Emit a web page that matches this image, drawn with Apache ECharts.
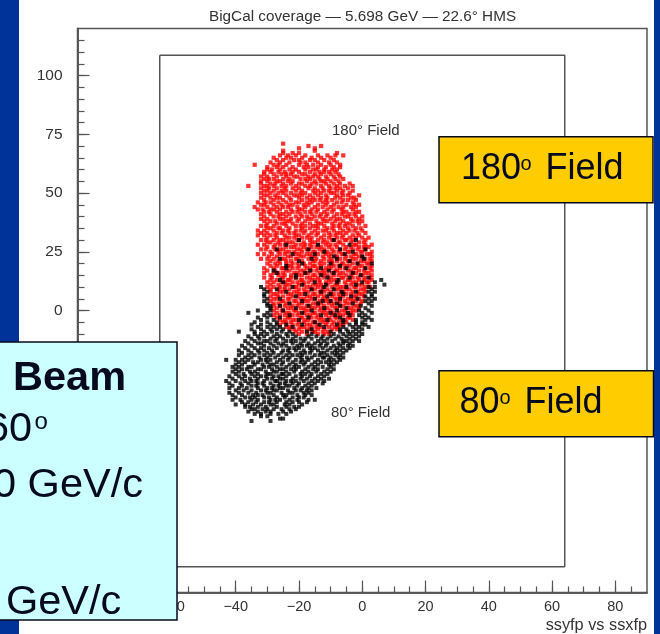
<!DOCTYPE html>
<html><head><meta charset="utf-8">
<style>html,body{margin:0;padding:0;background:#fff}#c{width:660px;height:634px}</style>
<script src="https://cdn.jsdelivr.net/npm/echarts@6/dist/echarts.min.js"></script>
</head><body><div id="c"></div>
<script>
const xMajor=[-80,-60,-40,-20,0,20,40,60,80];
const yMajor=[-100,-75,-50,-25,0,25,50,75,100];
const xMinor=[-85,-80,-75,-70,-65,-60,-55,-50,-45,-40,-35,-30,-25,-20,-15,-10,-5,0,5,10,15,20,25,30,35,40,45,50,55,60,65,70,75,80,85];
const yMinor=[-115,-110,-105,-100,-95,-90,-85,-80,-75,-70,-65,-60,-55,-50,-45,-40,-35,-30,-25,-20,-15,-10,-5,0,5,10,15,20,25,30,35,40,45,50,55,60,65,70,75,80,85,90,95,100,105,110,115];
const boxX=[-64,64,64,-64,-64];
const boxY=[108.6,108.6,-109,-109,108.6];
// each row: y, then the x of the points read along that row
const redRows=[
[71,-25],[70,-17,-13],[69,-20,-15],[68,-25,-15],[67,-25,-22,-20,-8],
[66,-26,-23.5,-21,-18,-14,-11,-8.5,-6],[65,-28,-24,-22.5,-19,-16,-13,-10],
[64,-27,-25,-21.5,-20,-16.5,-15,-12,-9],[63,-29,-26,-23,-19.5,-18,-14,-10.5,-8],
[62,-34,-28,-26.5,-24,-20,-17.5,-15.5,-13,-10,-7],[61,-30,-27,-25,-22,-18.5,-17,-14,-11.5,-9,-7],
[60,-30,-28.5,-26,-23,-21,-18,-15.5,-14.5,-12,-9.5,-8],[59,-31,-29,-26.5,-24.5,-22,-20,-16.5,-13.5,-12,-10.5,-8.5],
[58,-31,-28,-25.5,-24,-22.5,-19,-18,-15,-13,-10,-7.5],[57,-32,-30,-27,-24,-21.5,-20.5,-17,-15.5,-14,-11.5,-9,-7],
[56,-31,-29.5,-28,-25,-23,-19.5,-18,-16.5,-13.5,-11,-8.5,-6],[55,-32,-30,-27,-26,-23.5,-22,-17.5,-15,-13,-12,-10,-7.5],
[54,-32,-29,-27.5,-25,-22.5,-20,-19,-16,-14.5,-11.5,-9,-7,-4],[53,-36,-31,-30,-28,-25.5,-24,-21,-18,-16.5,-13,-10.5,-8,-5.5,-3],
[52,-32,-29.5,-27,-24.5,-22,-20,-17,-15,-12.5,-10,-8.5,-7,-4.5],[51,-31,-30,-28,-25.5,-24,-21,-19,-15.5,-14,-12,-10.5,-8,-6,-3],
[50,-32,-29,-26.5,-25,-22.5,-19.5,-18,-15,-13,-10,-9,-6.5,-4],[49,-31,-30,-27.5,-24,-21.5,-20.5,-19,-16.5,-14,-11.5,-8,-6,-4.5,-1],
[48,-32,-29,-27,-26,-23,-20,-17.5,-15.5,-13,-11,-8.5,-7,-3.5,-2.5],[47,-31,-28,-25,-22.5,-19,-16.5,-15,-13.5,-11.5,-9.5,-6,-4.5,-2],
[46,-33,-30.5,-29,-26.5,-24,-21,-20,-17.5,-16,-12.5,-11,-8,-6.5,-3],[45,-32,-31,-28,-25.5,-23,-22,-18.5,-17,-14,-11.5,-9,-5,-2.5,-1],
[44,-34,-30,-27,-25,-23.5,-20.5,-18,-15,-12.5,-10,-7.5,-6,-3.5,-2],[43,-33,-31.5,-29,-28,-26,-22.5,-20,-19,-16,-14,-11,-9,-6.5,-3],
[42,-31,-29.5,-27,-24,-22,-20.5,-18,-16.5,-14.5,-12,-9.5,-6,-5,-2,-1],[41,-32,-29,-26,-25,-23,-19.5,-16,-13,-11,-8,-6.5,-4,-2.5],
[40,-31,-28,-26.5,-24,-21,-19,-17.5,-15,-13.5,-11.5,-9,-5.5,-4.5,-2,0],[39,-32,-30,-26,-25,-22.5,-20,-17,-16,-12.5,-10,-8,-7,-3.5,-1],
[38,-31,-29,-27.5,-24,-23,-20.5,-18,-14.5,-12,-11,-8.5,-6,-3,-1.5,0],[37,-30,-27,-25.5,-24.5,-22,-19,-16.5,-14,-13,-9.5,-7,-5,-4,-1],
[36,-32,-30.5,-28,-24,-21,-19.5,-18,-15.5,-14.5,-12,-9,-7.5,-5.5,-3,1],[35,-30,-29,-26.5,-26,-23,-19,-16.5,-14,-11,-9.5,-7,-4.5,-2,-0.5],
[34,-33,-31,-28,-25,-23.5,-21,-19.5,-18,-15,-12.5,-11.5,-9,-6,-4,-2.5,0],[33,-32,-30,-27,-25.5,-23,-21.5,-18.5,-16,-14,-10.5,-8,-7,-5,-1.5,1],
[32,-33,-31,-29,-27.5,-24.5,-21,-20,-17,-14.5,-12,-10,-8.5,-6,-3,-1],[31,-30,-27,-24,-23,-21.5,-19,-17.5,-16,-13,-10.5,-8,-6.5,-4,-2,0,2],
[30,-32,-30.5,-28,-26,-25,-20.5,-20,-16.5,-14,-12,-9.5,-9,-5.5,-5,-3,1],[29,-30,-29,-26.5,-24,-23,-22,-18.5,-16,-15,-12.5,-11,-7.5,-7,-3.5,-1,0.5],
[28,-33,-31,-27.5,-26,-24.5,-21,-19.5,-18,-16.5,-14,-11.5,-10,-8.5,-6,-2.5,-2,1,3],[27,-30,-28,-24,-22.5,-21.5,-18.5,-16,-14.5,-13,-10.5,-8,-5,-3.5,-1,0.5,2],
[26,-32,-30.5,-27.5,-26,-25,-20.5,-19.5,-17.5,-17,-13.5,-12,-9.5,-7,-5.5,-3,-1.5,1],[25,-29,-26.5,-24,-23,-21.5,-19,-15.5,-15,-12.5,-11,-9,-7.5,-4.5,-4,-0.5,0,3],
[24,-33,-31,-28.5,-26,-24.5,-21,-20,-17.5,-16.5,-14,-11.5,-10,-6.5,-6,-2.5,-2,1.5,2.5],[23,-29.5,-27,-23.5,-22.5,-19.5,-18.5,-16,-15,-12.5,-10.5,-8.5,-8,-5,-3.5,-1,0,3],
[22,-32,-30,-28,-25.5,-24.5,-21,-20.5,-17,-14.5,-12,-10,-7,-5.5,-3,-2,1,2.5],[21,-29,-26.5,-24,-22.5,-19,-15.5,-15,-13,-10.5,-9.5,-8,-4.5,-4,-0.5,0.5,3],
[20,-30,-27.5,-26,-24,-22,-20.5,-18.5,-16.5,-13.5,-12,-9.5,-6.5,-6,-3,-1.5,1.5,2],[19,-29,-27,-23.5,-22.5,-20,-18,-15.5,-15,-13,-10.5,-9,-7.5,-5,-4,-1,0,3],
[18,-31,-28,-25.5,-25,-22,-20.5,-17.5,-16.5,-14,-11.5,-10,-7,-5.5,-2.5,-2,1,2.5],[17,-30,-27.5,-24,-23,-19.5,-18.5,-16,-14.5,-12.5,-11,-8.5,-8,-4.5,-3.5,-1,0.5,3],
[16,-31,-28,-26.5,-25,-21.5,-20.5,-18,-17,-13.5,-12,-9.5,-7,-6,-3,-2,1,2],[15,-29,-26.5,-24.5,-22.5,-20,-19,-15.5,-15,-12.5,-11,-9,-7.5,-5,-3.5,-0.5,0,3],
[14,-31,-28.5,-25.5,-25,-22.5,-21,-17.5,-16.5,-14,-12,-10,-6.5,-6,-3,-1.5,1,2.5],[13,-29,-27,-23.5,-23,-19.5,-19,-16,-15,-13.5,-10.5,-9,-8,-4.5,-4,-1,0.5,3],
[12,-30,-28,-25.5,-24.5,-22,-20.5,-18.5,-17,-13.5,-11.5,-10,-7.5,-5.5,-3,-2,1.5,2],[11,-29,-26.5,-24,-23,-20,-18.5,-15.5,-14.5,-13,-11,-8.5,-8,-5,-3.5,-1,0],
[10,-30,-28,-26,-24.5,-21.5,-21,-17.5,-16.5,-14,-12.5,-9.5,-7,-6,-2.5,-2,1,2.5],[9,-29,-26.5,-24.5,-23,-20,-18.5,-16,-15,-12.5,-11,-8.5,-7.5,-5,-4,-0.5,0.5],
[8,-29,-26,-25,-21.5,-20.5,-18,-17,-13.5,-12,-10,-6.5,-6,-3,-1.5,1],[7,-28,-27,-23.5,-22.5,-20,-19,-15.5,-15,-13,-10.5,-9,-7.5,-5,-3.5,-1,0],
[6,-29,-26.5,-25,-22,-20.5,-17.5,-16.5,-14,-12,-9.5,-7,-6,-2.5,-2,0.5],[5,-28,-27,-23.5,-23,-19.5,-18.5,-16,-15,-12.5,-11,-8.5,-8,-4.5,-3.5,-1],
[4,-29,-25.5,-25,-21.5,-21,-18,-17,-13.5,-11.5,-10,-7,-5.5,-3,-2,0],[3,-28,-26.5,-24,-23,-20,-19,-15.5,-14.5,-13,-10.5,-9,-7.5,-5,-4,-0.5],
[2,-28,-26,-24.5,-22,-20.5,-17.5,-16.5,-14,-12,-9.5,-7,-6,-2.5,-1.5],[1,-27,-23.5,-22.5,-19.5,-18.5,-16,-15,-13,-11,-8.5,-8,-4.5,-3.5,-1],
[0,-28,-25.5,-25,-21.5,-21,-18,-17,-13.5,-12,-10,-6.5,-5.5,-3,-2],[-1,-27,-24,-23,-20,-18.5,-15.5,-15,-12.5,-11,-9,-7.5,-5,-3.5],
[-2,-28,-26,-24.5,-22,-20.5,-17.5,-16.5,-14,-11.5,-9.5,-7,-6,-3],[-3,-27,-23.5,-23,-19.5,-19,-16,-14.5,-13,-10.5,-8.5,-8,-4.5,-4],
[-4,-26,-24.5,-22,-21,-18,-17,-13.5,-12,-10,-6.5,-5.5,-3],[-5,-25,-24,-22.5,-20,-18.5,-15.5,-15,-12.5,-11,-9,-7.5,-5],
[-6,-26,-22,-20.5,-17.5,-16.5,-14,-11.5,-9.5,-7,-6],[-7,-24,-23,-19.5,-18.5,-16,-14.5,-13,-10.5,-8.5,-7.5],
[-8,-23,-21.5,-20,-17.5,-16.5,-14,-12,-9.5,-8],[-9,-21,-19,-15.5,-15,-12.5,-11],[-10,-20,-17.5,-14,-12,-10.5]
];
const blackRows=[
[30,-20,-9,-2],[28,-24,-14,-4],[26,-27,-17,-7,1],[25,-12,-3],[24,-22,-15,-5.5],[23,-9,0],[22,-26,-16,-8,0.5],[21,-20,-4],[20,-19,-10,-1.5,3],[19,-24,-7],
[18,-24,-13,-5,1],[17,-28,-16.5,-10.5],[16,-27,-18,-9,-3],[15,-21,-13,-0.5],[14,-21,-11,-4,2],[13,6,-26,-7.5],[12,-25,-15,-8,0,4],[11,7,-19,-11.5,-2],
[10,-32,-22,-12,-5,2,4],[9,-31,-27,-16,-9,3],[8,-30,-24,-13,-6.5,-2,2,4],[7,-31,-18,-10,-6,3],[6,-31,-21,-11,-3.5,1,3],
[5,-30,-26,-15,-7,-1.5,2,4],[4,-31,-19,-12.5,-10,1,3],[3,-30,-23,-14,-8,-3,2],[2,-30,-29,-26,-17,-7,-0.5,3],[1,-29,-21,-12,-5,1],
[0,-33,-29,-25,-16,-8,-1,2],[-1,-36,-30,-19,-10,-4.5,0,3],[-2,-31,-29,-23,-13,-8.5,-4,-1,1],[-3,-33,-30,-26,-17,-7,0,2],
[-4,-32,-28,-20,-11,-6,-2,1,3],[-5,-34,-30,-27,-15,-6,-2,0],[-6,-35,-32,-29,-27,-24,-19,-13.5,-8,-4,-2,0,1],
[-7,-33,-30,-28,-26,-22,-12,-6,-3,-1,2],[-8,-35,-32,-29,-27,-25,-16,-7,-5,-2,0],
[-9,-39,-34,-31,-28.5,-25.5,-23,-17.5,-10,-7,-4.5,-3,-1],[-10,-34,-32,-30,-27,-24,-22,-16,-9,-6,-4,-2,0],
[-11,-36,-33,-31,-28,-26,-23.5,-21,-17,-14.5,-12.5,-10,-7.5,-5,-3,-1],[-12,-35,-32.5,-29,-27,-25,-22,-19.5,-18,-16,-13,-11,-8.5,-6.5,-4,-2],
[-13,-37,-34,-31,-30,-27.5,-24,-22.5,-21,-18.5,-14,-12,-9.5,-6,-5,-3,-1],[-14,-36,-33,-32,-29,-26.5,-25,-22,-19.5,-17,-15,-13,-11,-7.5,-6,-4],
[-15,-38,-35,-31,-28,-25.5,-24,-20.5,-19,-17.5,-16,-13.5,-11.5,-9,-7,-4.5,-3],[-16,-37,-34,-32,-29.5,-27,-23,-21.5,-20,-16.5,-15,-12.5,-10,-8,-6,-4],
[-17,-39,-36,-33,-31,-28.5,-25,-23.5,-21,-18.5,-16,-14,-11,-8.5,-7,-5],[-18,-38,-35,-32.5,-30,-28,-25.5,-23,-19.5,-18,-16.5,-13,-12,-9.5,-8,-6],
[-19,-39,-36,-34,-31,-29,-26.5,-24,-22,-20.5,-19,-15,-13.5,-11,-8.5,-7],[-20,-37,-35,-32.5,-30,-27.5,-25,-23,-19.5,-17.5,-16,-12.5,-12,-10,-7.5,-6],
[-21,-43,-40,-38,-36,-32,-30.5,-29,-26,-23.5,-21,-19,-17,-14,-10.5,-9,-7],[-22,-39,-37,-34.5,-33,-30,-27,-25,-22,-19.5,-18,-15,-13,-11.5,-10,-8],
[-23,-40,-38,-34,-31.5,-29,-28,-25.5,-23,-21,-18.5,-16,-14,-10.5,-9],[-24,-41,-39,-36,-35,-31,-29.5,-27,-24,-21.5,-20,-17,-15,-12.5,-10],
[-25,-40,-38,-36.5,-33,-32,-28.5,-26,-25,-22.5,-21,-18,-15.5,-14,-11,-9],[-26,-41,-39,-35.5,-34,-30.5,-28,-27,-24,-21.5,-19,-17,-14.5,-12,-10],
[-27,-40,-37.5,-35,-33,-30,-29,-25.5,-25,-23,-19.5,-18,-16,-13,-11],[-28,-42,-39,-37,-34,-32,-30.5,-28,-26.5,-24,-21,-19,-16.5,-14,-12],
[-29,-41,-38,-35.5,-33,-30,-28.5,-26,-25,-22,-19.5,-17.5,-15,-13,-10.5],[-30,-43,-40,-37,-35,-33.5,-31,-27.5,-27,-24,-22.5,-21,-18.5,-16,-14,-12],
[-31,-42,-38.5,-36,-33,-31.5,-29,-26,-24.5,-22,-20,-17,-15,-12.5],[-32,-41,-38,-35,-33.5,-31,-28,-26.5,-24,-23,-20.5,-18,-16],
[-33,-42,-39,-36.5,-33,-30,-28.5,-26,-25,-21.5,-19,-17,-14.5],[-34,-40,-37.5,-35,-32,-30.5,-28,-27,-23.5,-21,-19.5,-17.5,-16],
[-35,-42,-39,-36,-33.5,-30,-29,-25.5,-23,-22,-18.5,-17],[-36,-41,-38,-34.5,-33,-31.5,-28,-25,-24,-20.5,-18,-16],
[-37,-40,-37,-35.5,-34,-31,-29.5,-27,-24.5,-22,-20,-18.5],[-38,-41,-38.5,-35,-33,-29,-27.5,-26,-23,-20.5,-17,-15],
[-39,-38,-36,-33.5,-31,-29.5,-27,-24,-22,-20,-17.5],[-40,-40,-37,-34.5,-32,-29,-28,-24.5,-23,-19],
[-41,-37,-35.5,-33,-30.5,-27,-24,-21.5,-20],[-42,-35,-34,-31.5,-30,-28,-25.5,-23,-21],
[-43,-36,-33,-30.5,-29,-25,-22.5],[-44,-34,-32,-29,-26.5,-24],[-45,-32,-30],[-46,-26,-25],[-47,-35,-29]
];
const toPoints=rows=>rows.flatMap(r=>r.slice(1).map(x=>[x,r[0]]));
const ink='#050a1e', axisC='#555', textC='#333';
const fontAxis='"Liberation Sans"';
const minus=v=>String(v).replace('-','\u2212');
const line={onZero:false,lineStyle:{color:axisC,width:1.5}};
const base={type:'value',min:-90,max:90,splitLine:{show:false},axisLine:line};
const baseY={type:'value',min:-120,max:120,splitLine:{show:false},axisLine:line};
const T=(text,x,base,size,extra)=>({type:'text',z:102,x:x,y:base+size*0.21,style:Object.assign({text:text,fontFamily:'"Liberation Sans"',fontSize:size,fill:ink,verticalAlign:'bottom',align:'left'},extra||{})});
const S=(text,x,base,size,extra)=>({type:'text',z:50,x:x,y:base+size*0.21,style:Object.assign({text:text,fontFamily:fontAxis,fontSize:size,fill:textC,verticalAlign:'bottom',align:'left'},extra||{})});
const R=(x,y,w,h,fill,stroke)=>({type:'rect',z:stroke?101:100,shape:{x:x,y:y,width:w,height:h},style:{fill:fill,stroke:stroke||null,lineWidth:stroke?1.5:0}});
const chart=echarts.init(document.getElementById('c'),null,{renderer:'canvas'});
chart.setOption({
  animation:false,backgroundColor:'#fff',
  grid:{left:77.5,top:28.5,width:569.5,height:564,show:true,borderColor:axisC,borderWidth:1.5,backgroundColor:'#fff'},
  xAxis:[
    Object.assign({},base,{position:'bottom',axisTick:{inside:true,length:12,customValues:xMajor,lineStyle:{color:axisC,width:1.2}},
      axisLabel:{customValues:xMajor,margin:7,color:textC,fontFamily:fontAxis,fontSize:14.5,formatter:minus}}),
    Object.assign({},base,{position:'bottom',axisTick:{inside:true,length:6,customValues:xMinor,lineStyle:{color:axisC,width:1.2}},axisLabel:{show:false}})
  ],
  yAxis:[
    Object.assign({},baseY,{position:'left',axisTick:{inside:true,length:12,customValues:yMajor,lineStyle:{color:axisC,width:1.2}},
      axisLabel:{customValues:yMajor,margin:15,color:textC,fontFamily:fontAxis,fontSize:15.5,formatter:minus}}),
    Object.assign({},baseY,{position:'left',axisTick:{inside:true,length:7,customValues:yMinor,lineStyle:{color:axisC,width:1.2}},axisLabel:{show:false}})
  ],
  series:[
    {type:'line',data:boxX.map((x,i)=>[x,boxY[i]]),showSymbol:false,lineStyle:{color:axisC,width:1.5},silent:true,z:1},
    {type:'scatter',data:toPoints(redRows),symbol:'rect',symbolSize:4.2,itemStyle:{color:'#ff0000'},silent:true,progressive:0,z:2},
    {type:'scatter',data:toPoints(blackRows),symbol:'rect',symbolSize:4,itemStyle:{color:'#000'},silent:true,progressive:0,z:3}
  ],
  graphic:{elements:[
    R(0,0,19,634,'#003399'),
    R(654,0,6,634,'#003399'),
    S('BigCal coverage \u2014 5.698 GeV \u2014 22.6\u00b0 HMS',209,21.5,15.3),
    S('180\u00b0 Field',332,135,15),
    S('80\u00b0 Field',331,417,15),
    S('ssyfp vs ssxfp',647,630,16.3,{align:'right'}),
    R(-5,342,182,278,'#ccffff',ink),
    T('Beam',13,391,41.5,{fontWeight:'bold'}),
    T('60',-14,441.7,41.5),T('o',34.5,429,24),
    T('0 GeV/c',-7,498,41.5),
    T('GeV/c',6,615,41.5),
    R(439,136.7,214,66,'#ffcc00',ink),
    T('180',461,180,36),T('o',520.5,170,20),T('Field',545.5,180,36),
    R(439,370.7,214.5,66,'#ffcc00',ink),
    T('80',459.5,414,36),T('o',499.5,404,20),T('Field',524.5,414,36)
  ]}
});
</script></body></html>
